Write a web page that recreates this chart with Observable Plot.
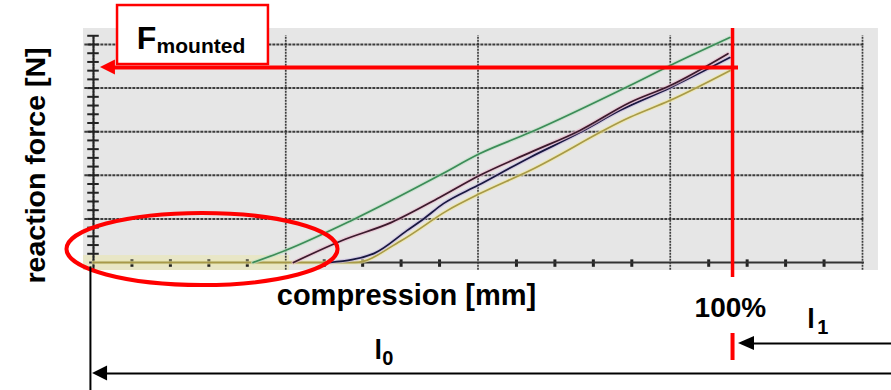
<!DOCTYPE html>
<html><head><meta charset="utf-8">
<script src="https://cdn.jsdelivr.net/npm/d3@7"></script>
<script src="https://cdn.jsdelivr.net/npm/@observablehq/plot@0.6"></script>
<style>body{margin:0;background:#fff} svg{display:block}</style>
</head><body><div id="chart"></div>
<script>
// ---- data (compression in grid units, reaction force in grid units) ----
const greenCurve  = [[0.83,0],[1.00,0.28],[1.34,0.96],[1.80,2.00],[2.01,2.50],[2.27,2.98],[2.79,4.06],[3.00,4.52],[3.31,5.16]];
const maroonCurve = [[1.04,0],[1.29,0.50],[1.55,0.92],[1.80,1.49],[2.01,2.00],[2.27,2.52],[2.53,3.03],[2.79,3.67],[3.00,4.06],[3.30,4.79]];
const navyCurve   = [[1.23,0],[1.46,0.21],[1.63,0.73],[1.72,1.01],[1.82,1.35],[2.00,1.77],[2.27,2.41],[2.53,2.98],[2.74,3.49],[3.00,4.01],[3.31,4.70]];
const yellowCurve = [[0,0],[1.36,0],[1.60,0.50],[1.84,1.19],[2.01,1.58],[2.27,2.11],[2.79,3.33],[3.00,3.72],[3.31,4.40]];

const xGrid = [0,1,2,3,4];
const yGrid = [1,2,3,4,5];
const xMinor = d3.range(0.2, 4, 0.2).filter(v => Math.abs(v - Math.round(v)) > 0.05);
const yMinor = d3.range(0.2, 5.21, 0.2);

const xLabel = "compression [mm]";
const yLabel = "reaction force [N]";
const fullLabel = "100%";
const fMain = "F", fSub = "mounted";

// annotation anchors (data units)
const fullCompression = 3.324;   // 100% line
const fMounted = 4.472;          // mounted force level
const l1Level = -1.858, l0Level = -2.546;

const font = "'Liberation Sans', Arial, Helvetica, sans-serif";

const rowsOf = (pts, s) => pts.map(([x, y]) => ({series: s, x, y}));

function arrowHead(tipX, tipY, len, half, color) {
  return (index, scales) => {
    const px = scales.x(tipX), py = scales.y(tipY);
    return d3.create("svg:path")
      .attr("d", `M${px},${py}L${px + len},${py - half}L${px + len},${py + half}Z`)
      .attr("fill", color).node();
  };
}
const ell = {cx: 0.567, cy: 0.298, rx: 0.705, ry: 0.826};
function ellipseMark(index, scales) {
  return d3.create("svg:ellipse")
    .attr("cx", scales.x(ell.cx)).attr("cy", scales.y(ell.cy))
    .attr("rx", scales.x(ell.cx + ell.rx) - scales.x(ell.cx))
    .attr("ry", scales.y(ell.cy - ell.ry) - scales.y(ell.cy))
    .attr("fill", "none").attr("stroke", "#ff0000").attr("stroke-width", 4).node();
}

const txt = (x, y, t, o) => Plot.text([{x, y, t}], {x: "x", y: "y", text: "t", fontWeight: "bold", fill: "#000", lineAnchor: "bottom", fontFamily: font, ...o});
const curveLine = (pts, s, halo, color) => [
  Plot.line(rowsOf(pts, s), {x: "x", y: "y", stroke: halo, strokeWidth: 4, strokeOpacity: 0.65, curve: "monotone-x"}),
  Plot.line(rowsOf(pts, s), {x: "x", y: "y", stroke: color, strokeWidth: 1.7, curve: "monotone-x"})
];

const chart = Plot.plot({
  width: 891, height: 390,
  marginTop: 0, marginRight: 0, marginBottom: 0, marginLeft: 0,
  x: {domain: [0, 4], range: [93, 862], axis: null},
  y: {domain: [0, 5], range: [262, 44], axis: null},
  style: {background: "#fff", fontFamily: font, overflow: "visible"},
  marks: [
    // chart background
    Plot.rect([0], {x1: -0.052, x2: 4.083, y1: -0.183, y2: 5.367, fill: "#e6e6e6"}),
    Plot.rect([0], {x1: -0.052, x2: 1.02, y1: -0.183, y2: 0.16, fill: "#e8e6c6"}),
    // grid
    Plot.ruleY(yGrid, {x1: -0.045, x2: 4.01, stroke: "#2a2a2a", strokeWidth: 2, strokeDasharray: "3,1", strokeOpacity: 0.9}),
    Plot.ruleX(xGrid, {y1: -0.18, y2: 5.2, stroke: "#2a2a2a", strokeWidth: 1.7, strokeDasharray: "2,1", strokeOpacity: 0.9}),
    // minor ticks
    Plot.ruleX(xMinor, {y1: -0.11, y2: 0.06, stroke: "#222", strokeWidth: 3}),
    Plot.ruleY(yMinor, {x1: -0.03, x2: 0.03, stroke: "#222", strokeWidth: 2}),
    // axes
    Plot.ruleY([0], {x1: -0.02, x2: 4.01, stroke: "#333", strokeWidth: 2}),
    Plot.ruleX([0], {y1: -0.15, y2: 5.2, stroke: "#222", strokeWidth: 2}),
    // curves (halo + line)
    curveLine(yellowCurve, "yellow", "#f0e8a0", "#a89a48"),
    curveLine(navyCurve, "navy", "#c8b8e0", "#181840"),
    curveLine(maroonCurve, "maroon", "#e8b8cc", "#3a1a2c"),
    curveLine(greenCurve, "green", "#bfe0c4", "#3c8c58"),
    // ellipse
    ellipseMark,
    // 100% line and mounted force arrow
    Plot.ruleX([fullCompression], {y1: -0.344, y2: 5.367, stroke: "#ff0000", strokeWidth: 3.5}),
    Plot.ruleY([fMounted], {x1: 0.09, x2: 3.355, stroke: "#ff0000", strokeWidth: 4}),
    arrowHead(0.036, fMounted, 15, 7.5, "#ff0000"),
    // label box
    Plot.rect([0], {x1: 0.125, x2: 0.910, y1: 4.541, y2: 5.894, fill: "#fff", stroke: "#ff0000", strokeWidth: 2.5}),
    txt(0.225, 4.908, fMain, {fontSize: 32, textAnchor: "start"}),
    txt(0.328, 4.794, fSub, {fontSize: 21, textAnchor: "start"}),
    // axis labels
    txt(1.628, -0.986, xLabel, {fontSize: 29, textAnchor: "middle"}),
    txt(-0.250, 2.225, yLabel, {fontSize: 28.5, textAnchor: "middle", rotate: -90}),
    txt(3.313, -1.239, fullLabel, {fontSize: 28, textAnchor: "middle"}),
    // l1 dimension
    Plot.ruleX([fullCompression], {y1: -1.628, y2: -2.248, stroke: "#ff0000", strokeWidth: 4}),
    Plot.ruleY([l1Level], {x1: 3.40, x2: 4.16, stroke: "#000", strokeWidth: 2}),
    arrowHead(3.355, l1Level, 16, 7, "#000"),
    txt(3.713, -1.491, "l", {fontSize: 27, textAnchor: "start"}),
    txt(3.765, -1.651, "1", {fontSize: 20, textAnchor: "start"}),
    // l0 dimension
    Plot.ruleX([-0.016], {y1: -0.1, y2: -2.94, stroke: "#000", strokeWidth: 2}),
    Plot.ruleY([l0Level], {x1: 0.05, x2: 4.16, stroke: "#000", strokeWidth: 2}),
    arrowHead(-0.005, l0Level, 15, 7.5, "#000"),
    txt(1.461, -2.202, "l", {fontSize: 27, textAnchor: "start"}),
    txt(1.502, -2.362, "0", {fontSize: 20, textAnchor: "start"})
  ]
});
document.getElementById("chart").appendChild(chart);
</script>
</body></html>
